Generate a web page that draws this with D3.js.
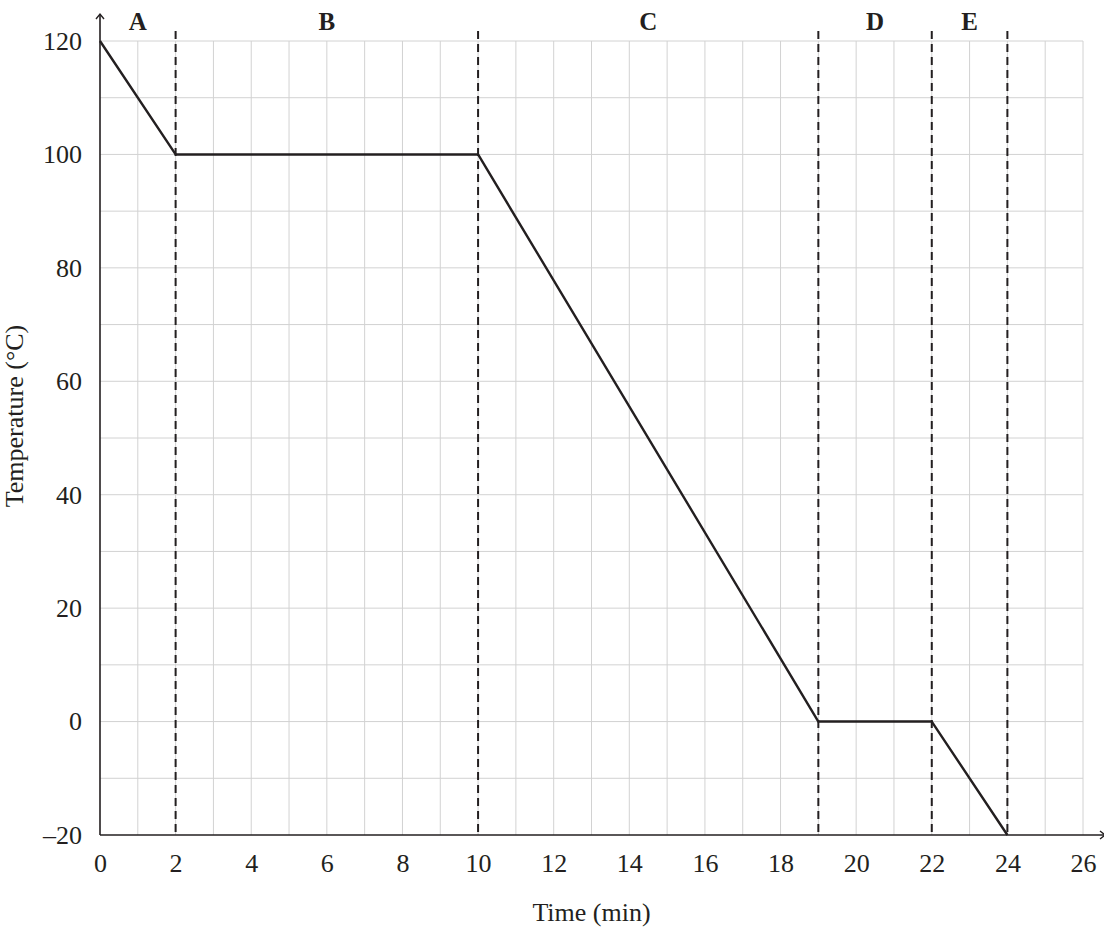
<!DOCTYPE html>
<html>
<head>
<meta charset="utf-8">
<script src="https://cdn.jsdelivr.net/npm/d3@7"></script>
<style>
  body { margin: 0; background: #fff; }
  svg text { font-family: "Liberation Serif", "Times New Roman", serif; fill: #231f20; }
</style>
</head>
<body>
<div class="chart"></div>
<script>
// data
const times = [0, 2, 10, 19, 22, 24]
const temps = [120, 100, 100, 0, 0, -20]
const phaseBounds = [2, 10, 19, 22, 24]          // dashed lines
const phaseNames = ["A", "B", "C", "D", "E"]
const phaseStarts = [0, 2, 10, 19, 22]
const phaseEnds = [2, 10, 19, 22, 24]
const xTicks = [0, 2, 4, 6, 8, 10, 12, 14, 16, 18, 20, 22, 24, 26]
const yTicks = [-20, 0, 20, 40, 60, 80, 100, 120]

const W = 1104, H = 929
const margin = {left: 100, right: 21, top: 41, bottom: 94}
const width = W - margin.left - margin.right,
      height = H - margin.top - margin.bottom

const svg = d3.select(".chart").append("svg")
  .attr("width", W).attr("height", H)

const g = svg.append("g")
  .attr("transform", `translate(${margin.left},${margin.top})`)

const xs = d3.scaleLinear().domain([0, 26]).range([0, width])
const ys = d3.scaleLinear().domain([-20, 120]).range([height, 0])

// grid
g.append("g").selectAll("line").data(d3.range(1, 27)).join("line")
  .attr("x1", d => xs(d)).attr("x2", d => xs(d))
  .attr("y1", ys(-20)).attr("y2", ys(120))
  .attr("stroke", "#d2d2d2").attr("stroke-width", 1)

g.append("g").selectAll("line").data(d3.range(-10, 121, 10)).join("line")
  .attr("x1", 0).attr("x2", xs(26))
  .attr("y1", d => ys(d)).attr("y2", d => ys(d))
  .attr("stroke", "#d2d2d2").attr("stroke-width", 1)

// dashed phase lines
g.append("g").selectAll("line").data(phaseBounds).join("line")
  .attr("x1", d => xs(d)).attr("x2", d => xs(d))
  .attr("y1", -10).attr("y2", ys(-20))
  .attr("stroke", "#231f20").attr("stroke-width", 2)
  .attr("stroke-dasharray", "8,5")

// phase letters
g.append("g").selectAll("text").data(phaseNames).join("text")
  .attr("x", (d, i) => xs((phaseStarts[i] + phaseEnds[i]) / 2))
  .attr("y", -11)
  .attr("text-anchor", "middle")
  .attr("font-weight", "bold")
  .attr("font-size", 25)
  .text(d => d)

// axes
const xAxis = g.append("g")
  .attr("transform", `translate(0,${height})`)
  .call(d3.axisBottom(xs).tickValues(xTicks).tickSize(0).tickPadding(19))
xAxis.select(".domain").remove()
xAxis.selectAll("text").attr("font-size", 26)
  .style("font-family", '"Liberation Serif", serif').attr("fill", "#231f20")

const yAxis = g.append("g")
  .call(d3.axisLeft(ys).tickValues(yTicks).tickSize(0).tickPadding(18)
    .tickFormat(d => d < 0 ? "\u2013" + Math.abs(d) : d))
yAxis.select(".domain").remove()
yAxis.selectAll("text").attr("font-size", 26)
  .style("font-family", '"Liberation Serif", serif').attr("fill", "#231f20")

// axis lines with arrows
g.append("line")
  .attr("x1", 0).attr("x2", W - margin.left + 4)
  .attr("y1", height).attr("y2", height)
  .attr("stroke", "#231f20").attr("stroke-width", 1.6)
g.append("path")
  .attr("d", `M${W - margin.left - 4},${height - 4} L${W - margin.left + 1},${height} L${W - margin.left - 4},${height + 4}`)
  .attr("fill", "none").attr("stroke", "#231f20").attr("stroke-width", 1.4)

g.append("line")
  .attr("x1", 0).attr("x2", 0)
  .attr("y1", height).attr("y2", -27)
  .attr("stroke", "#231f20").attr("stroke-width", 1.6)
g.append("path")
  .attr("d", "M-4,-22 L0,-27 L4,-22")
  .attr("fill", "none").attr("stroke", "#231f20").attr("stroke-width", 1.4)

// the cooling curve
const line = d3.line().x(d => xs(d[0])).y(d => ys(d[1]))
g.append("path")
  .datum(times.map((t, i) => [t, temps[i]]))
  .attr("d", line)
  .attr("fill", "none")
  .attr("stroke", "#231f20")
  .attr("stroke-width", 2.4)
  .attr("stroke-linejoin", "round")

// axis titles
svg.append("text")
  .attr("x", margin.left + xs(13)).attr("y", 921)
  .attr("text-anchor", "middle").attr("font-size", 26)
  .text("Time (min)")

svg.append("text")
  .attr("transform", "translate(23,416) rotate(-90)")
  .attr("text-anchor", "middle").attr("font-size", 26)
  .text("Temperature (°C)")
</script>
</body>
</html>
